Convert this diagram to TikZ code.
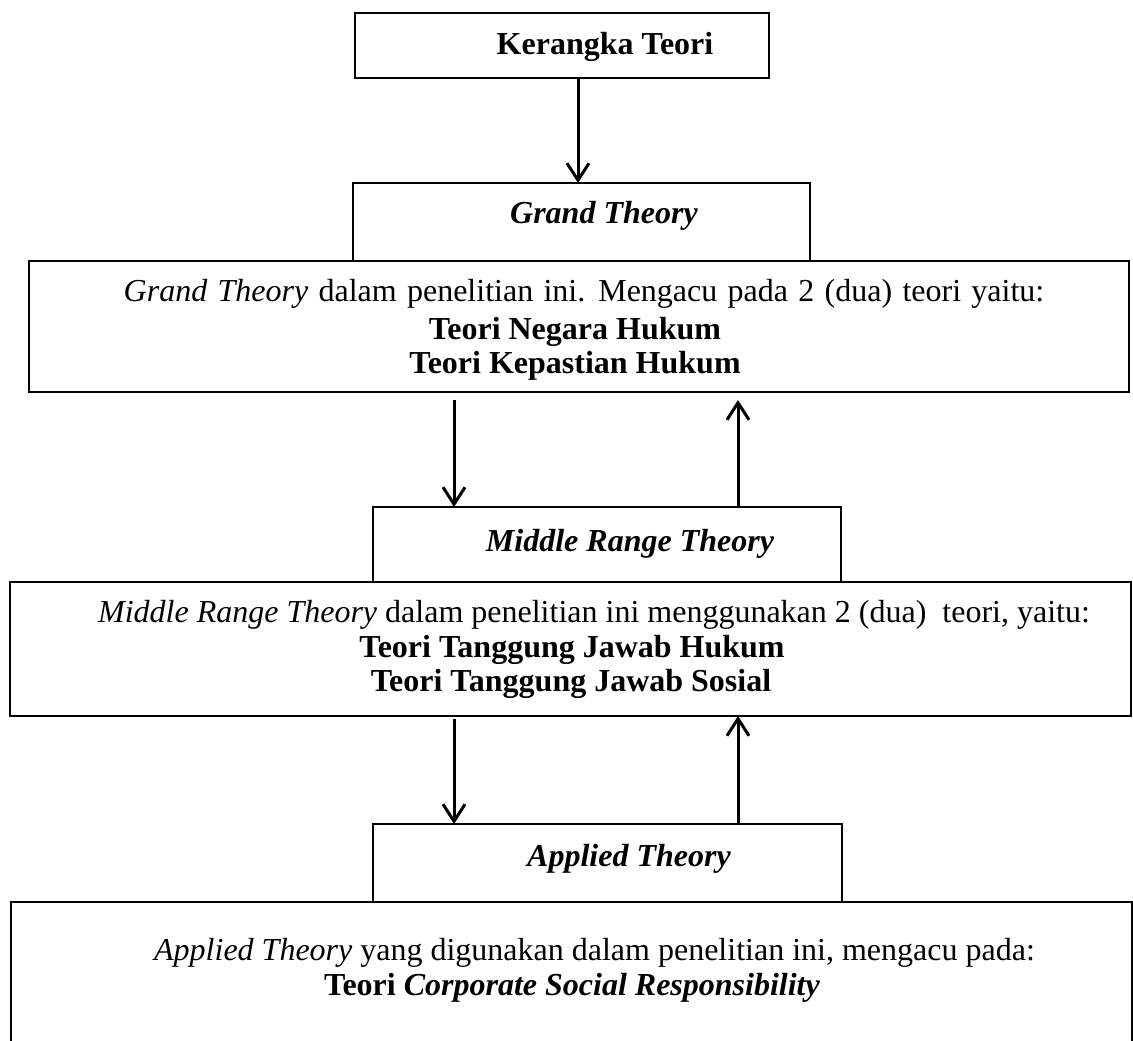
\documentclass[tikz,border=0pt]{standalone}
\usepackage{fontspec}
\setmainfont{Liberation Serif}
\usetikzlibrary{arrows.meta}
\tikzset{
  boxline/.style={draw=black,line width=2pt},
  frame/.style={rectangle,boxline,inner sep=0pt,outer sep=0pt},
  openframe/.style={rectangle,draw=none,inner sep=0pt,outer sep=0pt},
  txt/.style={inner sep=0pt,outer sep=0pt,anchor=base,font=\fontsize{32}{38}\selectfont},
  conn/.style={line width=3pt,-{Straight Barb[length=17pt,width=22pt]}}
}
\begin{document}
\begin{tikzpicture}[x=1pt,y=-1pt]
\useasboundingbox (0,0) rectangle (1133,1041);
% boxes
\node[frame,minimum width=414pt,minimum height=65pt] (K) at (562,45.5) {};
\node[frame,minimum width=457pt,minimum height=78pt] (G) at (581.5,222) {};
\node[frame,minimum width=1100pt,minimum height=131pt] (GB) at (579,326.5) {};
\node[frame,minimum width=468pt,minimum height=75pt] (M) at (607,544.5) {};
\node[frame,minimum width=1121pt,minimum height=134pt] (MB) at (570.5,649) {};
\node[frame,minimum width=469pt,minimum height=78pt] (A) at (607.5,863) {};
\node[openframe,minimum width=1121pt,minimum height=145pt] (AB) at (571.5,974.5) {};
\draw[boxline] (AB.south west) -- (AB.north west) -- (AB.north east) -- (AB.south east);
% texts
\node[txt] (tK) at (605,55) {\textbf{Kerangka Teori}};
\node[txt] (tG) at (604,223) {\textbf{\textit{Grand Theory}}};
\node[txt] (tG1) at (584,301) {\spaceskip=10.3pt\textit{Grand Theory} dalam penelitian ini. Mengacu pada 2 (dua) teori yaitu:};
\node[txt] (tG2) at (575,339) {\textbf{Teori Negara Hukum}};
\node[txt] (tG3) at (575,373) {\textbf{Teori Kepastian Hukum}};
\node[txt] (tM) at (630,551) {\textbf{\textit{Middle Range Theory}}};
\node[txt] (tM1) at (594,622) {\textit{Middle Range Theory} dalam penelitian ini menggunakan 2 (dua)\ \ teori, yaitu:};
\node[txt] (tM2) at (572,657) {\textbf{Teori Tanggung Jawab Hukum}};
\node[txt] (tM3) at (571,691) {\textbf{Teori Tanggung Jawab Sosial}};
\node[txt] (tA) at (629,866) {\textbf{\textit{Applied Theory}}};
\node[txt] (tA1) at (594.5,960) {\textit{Applied Theory} yang digunakan dalam penelitian ini, mengacu pada:};
\node[txt] (tA2) at (572,995) {\textbf{Teori \textit{Corporate Social Responsibility}}};
% x positions of connectors
\coordinate (xa) at (578,0);
\coordinate (xl) at (454,0);
\coordinate (xr) at (738,0);
% connectors
\draw[conn] (K.south -| xa) -- (G.north -| xa);
\draw[conn,shorten <=8pt] (GB.south -| xl) -- (M.north -| xl);
\draw[conn,shorten >=8pt] (M.north -| xr) -- (GB.south -| xr);
\draw[conn,shorten <=3pt] (MB.south -| xl) -- (A.north -| xl);
\draw[conn] (A.north -| xr) -- (MB.south -| xr);
\end{tikzpicture}
\end{document}
